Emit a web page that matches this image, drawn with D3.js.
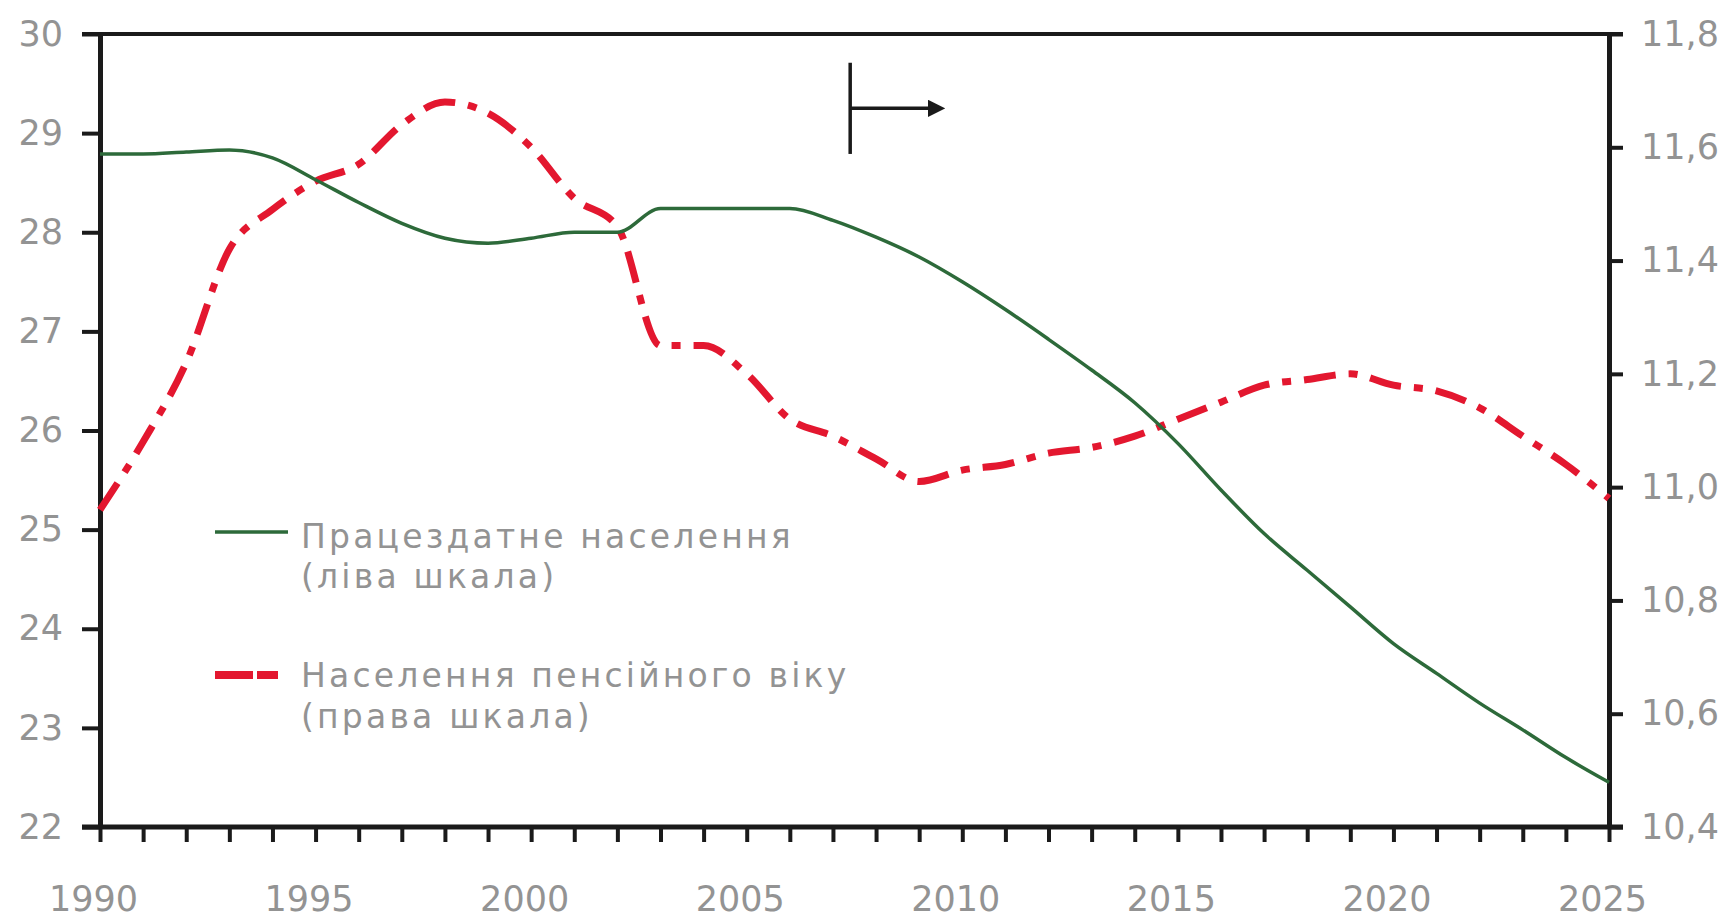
<!DOCTYPE html>
<html>
<head>
<meta charset="utf-8">
<script src="https://cdn.jsdelivr.net/npm/d3@7/dist/d3.min.js"></script>
<style>
  html, body { margin: 0; padding: 0; background: #fff; }
  svg { display: block; }
</style>
</head>
<body>
<svg id="chart" width="1726" height="919"></svg>
<script>
// ---- data ----
const years = [1990,1991,1992,1993,1994,1995,1996,1997,1998,1999,
               2000,2001,2002,2003,2004,2005,2006,2007,2008,2009,
               2010,2011,2012,2013,2014,2015,2016,2017,2018,2019,
               2020,2021,2022,2023,2024,2025];
// Працездатне населення (ліва шкала), млн
const workingAge = [28.79,28.79,28.81,28.83,28.75,28.53,28.30,28.09,27.94,27.89,
                    27.94,28.00,28.00,28.24,28.24,28.24,28.24,28.12,27.95,27.75,
                    27.50,27.22,26.92,26.61,26.28,25.87,25.40,24.96,24.59,24.22,
                    23.85,23.55,23.25,22.98,22.70,22.45];
// Населення пенсійного віку (права шкала), млн
const pensionAge = [10.96,11.08,11.22,11.42,11.49,11.54,11.57,11.64,11.68,11.66,
                    11.60,11.51,11.46,11.25,11.25,11.20,11.12,11.09,11.05,11.01,
                    11.03,11.04,11.06,11.07,11.09,11.12,11.15,11.18,11.19,11.20,
                    11.18,11.17,11.14,11.09,11.04,10.98];
const leftTicks = [22,23,24,25,26,27,28,29,30];
const rightTicks = [10.4,10.6,10.8,11.0,11.2,11.4,11.6,11.8];
const xLabelYears = [1990,1995,2000,2005,2010,2015,2020,2025];
const legendLabels = [
  ["Працездатне населення", "(ліва шкала)"],
  ["Населення пенсійного віку", "(права шкала)"]
];
// annotation arrow (forecast start), in data units of x / left scale
const arrowYear = 2007.4, arrowEndYear = 2009.65;
const arrowTop = 29.71, arrowBottom = 28.79, arrowLevel = 29.25;

// ---- layout ----
const svg = d3.select("#chart");
const L = 100, R = 1609, T = 34, B = 827;
const FONT = "'DejaVu Sans', Verdana, sans-serif";
const GREY = "#939393";
const GREEN = "#2d6a3a";
const RED = "#e3172f";
const AXIS = "#1a1a1a";

const x = d3.scaleLinear().domain([1990, 2025]).range([L, R]);
const yL = d3.scaleLinear().domain([22, 30]).range([B, T]);
const yR = d3.scaleLinear().domain([10.4, 11.8]).range([B, T]);

// frame: top line
svg.append("line")
  .attr("x1", L - 18).attr("x2", R + 14)
  .attr("y1", yL(30)).attr("y2", yL(30))
  .attr("stroke", AXIS).attr("stroke-width", 4);

function styleAxis(g) {
  g.select(".domain").attr("stroke", AXIS).attr("stroke-width", 5);
  g.selectAll(".tick line").attr("stroke", AXIS).attr("stroke-width", 4);
  g.selectAll(".tick text")
    .attr("fill", GREY)
    .style("font-family", FONT)
    .style("font-size", "35px");
}

// left axis
const gL = svg.append("g").attr("transform", `translate(${L},0)`)
  .call(d3.axisLeft(yL).tickValues(leftTicks).tickSize(18).tickSizeOuter(0).tickPadding(19)
    .tickFormat(d3.format("d")));
styleAxis(gL);

// right axis
const fmtR = d => d3.format(".1f")(d).replace(".", ",");
const gR = svg.append("g").attr("transform", `translate(${R},0)`)
  .call(d3.axisRight(yR).tickValues(rightTicks).tickSize(14).tickSizeOuter(0).tickPadding(18)
    .tickFormat(fmtR));
styleAxis(gR);

// bottom axis
const gB = svg.append("g").attr("transform", `translate(0,${B})`)
  .call(d3.axisBottom(x).tickValues(years).tickSize(15).tickSizeOuter(0).tickPadding(44)
    .tickFormat(d => xLabelYears.includes(d) ? String(d) : ""));
styleAxis(gB);
gB.select(".domain").attr("d", `M${L - 18},0H${R + 14}`);
gB.selectAll(".tick text").attr("dx", -7);

// lines
const greenLine = d3.line()
  .x((d, i) => x(years[i])).y(d => yL(d))
  .curve(d3.curveMonotoneX);
const redLine = d3.line()
  .x((d, i) => x(years[i])).y(d => yR(d))
  .curve(d3.curveMonotoneX);

svg.append("path").datum(pensionAge)
  .attr("d", redLine)
  .attr("fill", "none").attr("stroke", RED)
  .attr("stroke-width", 7)
  .attr("stroke-dasharray", "32,13,9,13");

svg.append("path").datum(workingAge)
  .attr("d", greenLine)
  .attr("fill", "none").attr("stroke", GREEN)
  .attr("stroke-width", 3.5);

// annotation arrow
svg.append("defs").append("marker")
  .attr("id", "ah").attr("viewBox", "0 0 10 10")
  .attr("refX", 2).attr("refY", 5)
  .attr("markerWidth", 5).attr("markerHeight", 5)
  .attr("markerUnits", "strokeWidth")
  .attr("orient", "auto")
  .append("path").attr("d", "M0,0L10,5L0,10Z").attr("fill", AXIS);

svg.append("line")
  .attr("x1", x(arrowYear)).attr("x2", x(arrowYear))
  .attr("y1", yL(arrowTop)).attr("y2", yL(arrowBottom))
  .attr("stroke", AXIS).attr("stroke-width", 3.5);
svg.append("line")
  .attr("x1", x(arrowYear)).attr("x2", x(arrowEndYear) - 16)
  .attr("y1", yL(arrowLevel)).attr("y2", yL(arrowLevel))
  .attr("stroke", AXIS).attr("stroke-width", 3.5)
  .attr("marker-end", "url(#ah)");

// legend
const lg = svg.append("g");
lg.append("line").attr("x1", 215).attr("x2", 288).attr("y1", 532).attr("y2", 532)
  .attr("stroke", GREEN).attr("stroke-width", 3.5);
lg.append("line").attr("x1", 215).attr("x2", 278).attr("y1", 675).attr("y2", 675)
  .attr("stroke", RED).attr("stroke-width", 8).attr("stroke-dasharray", "38,4,21,40");

const legendBaselines = [[548, 588], [687, 728]];
legendLabels.forEach((lines, i) => {
  lines.forEach((txt, j) => {
    lg.append("text")
      .attr("x", 301).attr("y", legendBaselines[i][j])
      .attr("fill", GREY)
      .style("font-family", FONT)
      .style("font-size", "33px")
      .style("letter-spacing", "3.2px")
      .text(txt);
  });
});
</script>
</body>
</html>
